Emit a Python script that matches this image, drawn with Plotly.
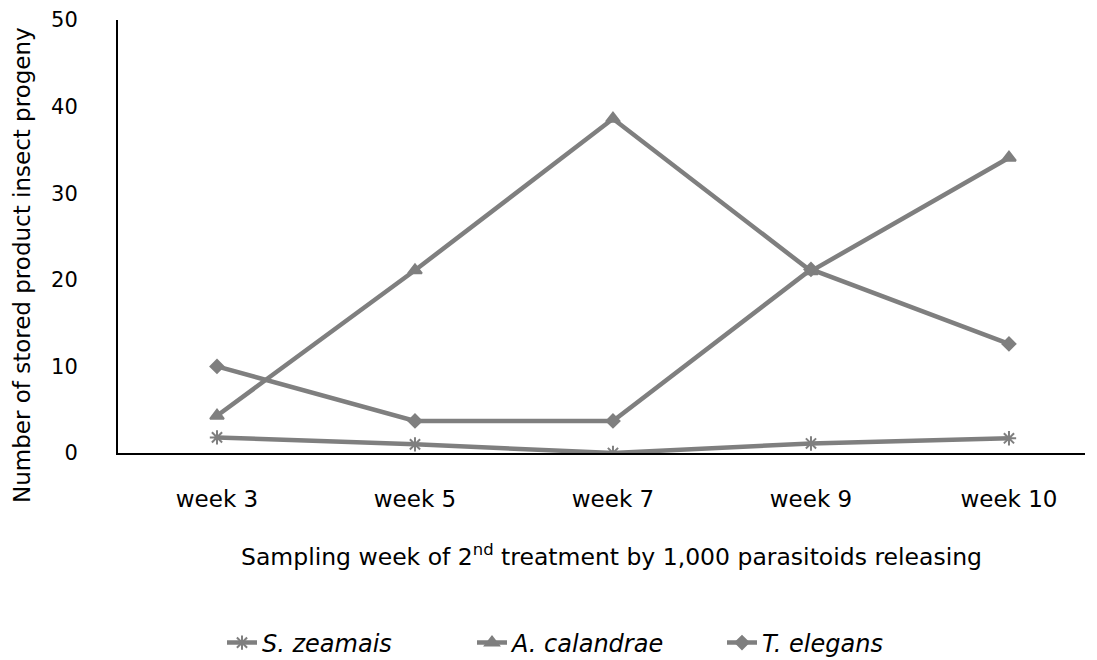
import plotly.graph_objects as go

weeks = ["week 3", "week 5", "week 7", "week 9", "week 10"]
s_zeamais = [1.8, 1.0, 0.0, 1.1, 1.7]
a_calandrae = [4.3, 21.1, 38.6, 21.0, 34.1]
t_elegans = [10.0, 3.7, 3.7, 21.2, 12.6]

gray = "#7f7f7f"
font_family = "DejaVu Sans"

fig = go.Figure()
series = [
    ("<i>S. zeamais</i>", s_zeamais, "asterisk-open", 12),
    ("<i>A. calandrae</i>", a_calandrae, "triangle-up", 12),
    ("<i>T. elegans</i>", t_elegans, "diamond", 10),
]
for name, vals, sym, sz in series:
    fig.add_trace(go.Scatter(
        x=weeks, y=vals, name=name, mode="lines+markers",
        line=dict(color=gray, width=4.5),
        marker=dict(symbol=sym, size=sz, color=gray, line=dict(color=gray, width=2)),
    ))

fig.update_layout(
    width=1097, height=660,
    margin=dict(l=118, r=12, t=20, b=207, autoexpand=False),
    plot_bgcolor="white", paper_bgcolor="white",
    font=dict(family=font_family, size=21, color="black"),
    showlegend=True,
    legend=dict(orientation="h", x=222 / 1097, xanchor="left", xref="container",
                y=(660 - 643) / 660, yanchor="middle", yref="container",
                font=dict(size=24), itemwidth=30, entrywidth=205, tracegroupgap=0),
    xaxis=dict(range=[-0.5, 4.384], showline=True, linecolor="black", linewidth=2,
               showgrid=False, ticks="", tickfont=dict(size=23), automargin=False,
               ticklabelstandoff=24),
    yaxis=dict(range=[0, 50], dtick=10, showline=True, linecolor="black", linewidth=2,
               showgrid=False, ticks="", zeroline=False, tickfont=dict(size=21),
               ticklabelstandoff=34, automargin=False),
    annotations=[
        dict(text="Number of stored product insect progeny", textangle=-90,
             xref="paper", yref="paper", x=(22 - 118) / 967, y=(453 - 265) / 433,
             xanchor="center", yanchor="middle", showarrow=False, font=dict(size=23)),
        dict(text="Sampling week of 2<sup>nd</sup> treatment by 1,000 parasitoids releasing",
             xref="paper", yref="paper", x=(611 - 118) / 967, y=(453 - 555) / 433,
             xanchor="center", yanchor="middle", showarrow=False, font=dict(size=23.5)),
    ],
)

fig.write_html("out.html", config={"displayModeBar": False},
               post_script="document.body.style.margin='0';document.body.style.padding='0';")
